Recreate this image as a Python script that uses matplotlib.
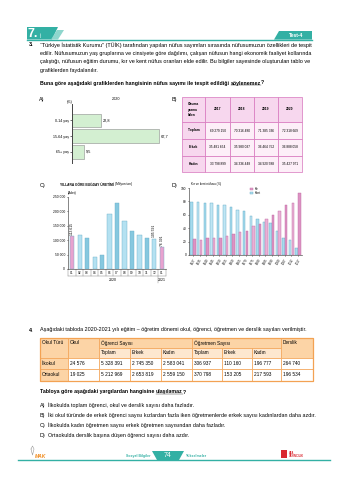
import numpy as np
import matplotlib
matplotlib.use("Agg")
import matplotlib.pyplot as plt
from matplotlib.patches import Rectangle, Polygon

W, H = 342, 480
plt.rcParams['font.family'] = ['Liberation Sans', 'DejaVu Sans']

TEAL = '#33b0a4'
BODY = 3.9

# --- veriler ---
age_groups = ["0-14 yaş", "15-64 yaş", "65+ yaş"]
age_share = [22.8, 67.7, 9.5]

lit_years = ["2017", "2018", "2019", "2020"]
lit_rows = ["Toplam", "Erkek", "Kadın"]
lit_total = ["69 279 150", "70 316 480", "71 385 336", "72 318 669"]
lit_male = ["35 481 654", "35 980 037", "36 464 752", "36 888 058"]
lit_female = ["33 798 899", "34 336 448", "34 920 588", "35 427 971"]

months = ["01", "02", "03", "04", "05", "06", "07", "08", "09", "10", "11", "12", "01"]
house_sales = [113615, 118753, 108670, 41630, 47518, 190012, 229357,
               167754, 131018, 119343, 108691, 105591, 76391]
labelled_months = [0, 11, 12]

census_years = ["1927", "1935", "1940", "1945", "1950", "1955", "1960", "1965", "1970",
                "1975", "1980", "1985", "1990", "2000", "2007", "2012", "2017"]
kent_share = [79, 79, 78, 77, 75, 75, 72, 67, 65, 58, 54, 50, 48, 36, 25, 23, 10]
kir_share = [24, 23, 25, 25, 25, 28, 32, 34, 36, 43, 47, 53, 59, 65, 74, 78, 93]

school_types = ["İlkokul", "Ortaokul"]
school_count = ["24 576", "19 025"]
student_total = ["5 328 391", "5 212 969"]
student_male = ["2 745 350", "2 653 819"]
student_female = ["2 583 041", "2 559 150"]
teacher_total = ["306 937", "370 798"]
teacher_male = ["110 160", "153 205"]
teacher_female = ["196 777", "217 593"]
classrooms = ["264 740", "196 534"]

q3_lines = [
    "“Türkiye İstatistik Kurumu” (TÜİK) tarafından yapılan nüfus sayımları sırasında nüfusumuzun özellikleri de tespit",
    "edilir. Nüfusumuzun yaş gruplarına ve cinsiyete göre dağılımı, çalışan nüfusun hangi ekonomik faaliyet kollarında",
    "çalıştığı, nüfusun eğitim durumu, kır ve kent nüfus oranları elde edilir. Bu bilgiler sayesinde oluşturulan tablo ve",
    "grafiklerden faydalanılır.",
]
q4_options = [
    ("A)", "İlkokulda toplam öğrenci, okul ve derslik sayısı daha fazladır."),
    ("B)", "İki okul türünde de erkek öğrenci sayısı kızlardan fazla iken öğretmenlerde erkek sayısı kadınlardan daha azdır."),
    ("C)", "İlkokulda kadın öğretmen sayısı erkek öğretmen sayısından daha fazladır."),
    ("D)", "Ortaokulda derslik başına düşen öğrenci sayısı daha azdır."),
]


def px_rect(x0, y0, x1, y1):
    return [x0 / W, 1 - y1 / H, (x1 - x0) / W, (y1 - y0) / H]


fig = plt.figure(figsize=(W / 100, H / 100), dpi=100)
page = fig.add_axes([0, 0, 1, 1])
page.set_xlim(0, W)
page.set_ylim(H, 0)
page.axis('off')
rend = fig.canvas.get_renderer()


def txt(x, y, s, size=BODY, **kw):
    kw.setdefault('va', 'center')
    return page.text(x, y, s, fontsize=size, **kw)


def width_of(t):
    return t.get_window_extent(rend).width


def fit_line(x0, x1, y, line, size=BODY):
    # satırı sağ kenara kadar uzatmak için yazı boyunu biraz ayarlar
    t = txt(x0, y, line, size)
    scale = (x1 - x0) / width_of(t)
    t.set_fontsize(size * min(max(scale, 0.95), 1.06))


def runs(x, y, parts, size=BODY, weight='normal'):
    # parçaları yan yana yazar, işaretli olanların altını çizer
    for s, under in parts:
        t = txt(x, y, s, size, weight=weight)
        w = width_of(t)
        if under:
            page.plot([x, x + w], [y + 2.4, y + 2.4], color='#222', lw=0.3)
        x += w


# --- üst başlık ---
page.add_patch(Polygon([(27, 27), (58, 27), (52, 39.5), (27, 39.5)], closed=True, color=TEAL, lw=0))
page.add_patch(Polygon([(57, 30), (64, 30), (58, 39.5), (51, 39.5)], closed=True, color='#8fd6cd', lw=0))
txt(28, 34, "7.", 9, weight='bold', color='white')
txt(41.5, 34, "SINIF", 1.6, weight='bold', color='white', rotation=90, ha='center')
page.plot([27, 312], [39.6, 39.6], color=TEAL, lw=1.0)
page.add_patch(Polygon([(274, 39.6), (279, 31), (312, 31), (312, 39.6)], closed=True, color=TEAL, lw=0))
txt(296, 35.5, "Test-4", 3.6, weight='bold', color='white', ha='center')

# --- soru 3 ---
txt(29, 45, "3.", BODY, weight='bold')
for i, line in enumerate(q3_lines):
    y = 45 + i * 8.4
    if i < len(q3_lines) - 1:
        fit_line(40, 312, y, line)
    else:
        txt(40, y, line)
runs(40, 83, [("Buna göre aşağıdaki grafiklerden hangisinin nüfus sayımı ile tespit edildiği ", False),
              ("söylenemez", True), ("?", False)], size=3.8, weight='bold')

# --- A) yaş grupları ---
txt(39, 99, "A)", BODY)
txt(116, 99, "2020", 2.7, ha='center')
txt(70, 102, "(%)", 2.7, ha='center')
axA = fig.add_axes(px_rect(72, 104, 172, 163))
axA.barh(range(len(age_share)), age_share, height=0.87, color='#d3efd1',
         edgecolor='#8c8c8c', lw=0.4)
for i, v in enumerate(age_share):
    axA.text(v + 1.5, i, f"{v:.1f}".replace('.', ','), fontsize=2.8, va='center')
axA.set_ylim(2.72, -1.05)
axA.set_xlim(0, 77.8)
axA.set_yticks(range(len(age_groups)), age_groups, fontsize=2.6)
axA.set_xticks([])
for s in ['top', 'right', 'bottom']:
    axA.spines[s].set_visible(False)
axA.spines['left'].set_linewidth(0.7)
axA.spines['left'].set_color('#444')
axA.tick_params(axis='y', length=1.2, width=0.4, pad=1)
axA.patch.set_alpha(0)

# --- B) okuma yazma bilen tablosu ---
txt(172, 99, "B)", BODY)
bx = [182, 205, 230, 254, 278, 302]
by = [97, 122, 139, 156, 172]
pink_edge = '#d775bd'
for r in range(4):
    for c in range(5):
        head = r == 0 or c == 0
        page.add_patch(Rectangle((bx[c], by[r]), bx[c + 1] - bx[c], by[r + 1] - by[r],
                                 facecolor='#f7d7ee' if head else '#fdeff8',
                                 edgecolor=pink_edge, lw=0.5))
txt(188, 109.5, "Okuma\nyazma\nbilen", 2.3, weight='bold', ha='left', linespacing=1.6)
for c, yr in enumerate(lit_years):
    txt((bx[c + 1] + bx[c + 2]) / 2, 109.5, yr, 2.4, ha='center', weight='bold')
for r, (name, vals) in enumerate(zip(lit_rows, [lit_total, lit_male, lit_female])):
    yc = (by[r + 1] + by[r + 2]) / 2
    txt((bx[0] + bx[1]) / 2, yc, name, 2.4, ha='center', weight='bold')
    for c, v in enumerate(vals):
        txt((bx[c + 1] + bx[c + 2]) / 2, yc, v, 2.3, ha='center')

# --- C) aylık satışlar ---
txt(40, 186, "C)", BODY)
txt(114, 184.5, "YILLARA GÖRE BUĞDAY ÜRETİMİ", 2.3, ha='right', weight='bold')
txt(115, 184.5, "(Milyon ton)", 2.3, ha='left')
txt(68, 193, "(Adet)", 2.3)
cx0, cx1 = 68, 166
axC = fig.add_axes(px_rect(cx0, 197, cx1, 269))
xc = np.arange(len(house_sales))
c_cols = []
for i in xc:
    if months[i] == "01":
        c_cols.append('#e8a2cf')
    else:
        c_cols.append('#b4e1f1' if i % 2 == 1 else '#86c8df')
axC.bar(xc, house_sales, width=0.55, color=c_cols, edgecolor='#6aaec8', lw=0.3)
for i in labelled_months:
    v = house_sales[i]
    axC.text(i, v + 4000, f"{v:,}".replace(',', ' '), rotation=90, ha='center',
             va='bottom', fontsize=2.4)
axC.set_xlim(-0.55, len(xc) - 0.45)
axC.set_ylim(0, 250000)
yt = np.arange(0, 250001, 50000)
axC.set_yticks(yt, [f"{v:,}".replace(',', ' ') for v in yt], fontsize=2.4)
axC.set_xticks([])
for s in ['top', 'right']:
    axC.spines[s].set_visible(False)
for s in ['left', 'bottom']:
    axC.spines[s].set_linewidth(0.5)
    axC.spines[s].set_color('#555')
axC.tick_params(axis='y', length=1, width=0.4, pad=1)
axC.patch.set_alpha(0)


def c_px(v):
    return cx0 + (v + 0.55) / (len(xc) - 0.45 + 0.55) * (cx1 - cx0)


for i, m in enumerate(months):
    txt(c_px(i), 272.5, m, 2.3, ha='center')
    page.plot([c_px(i + 0.5)] * 2, [269, 283 if i == 11 else 276], color='#777', lw=0.3)
page.plot([c_px(-0.5)] * 2, [269, 276], color='#777', lw=0.3)
page.plot([c_px(-0.5), c_px(len(xc) - 0.5)], [276, 276], color='#777', lw=0.3)
txt(c_px(5.5), 280, "2020", 2.5, ha='center')
txt(c_px(12), 280, "2021", 2.5, ha='center')

# --- D) kır ve kent nüfusu ---
txt(172, 185, "D)", BODY)
txt(191, 183.5, "Kır ve kent nüfusu (%)", 2.2)
axD = fig.add_axes(px_rect(189, 188, 302, 255))
xd = np.arange(len(census_years))
blue_cols = ['#a6dbee' if i % 2 == 0 else '#bfe6f4' for i in xd]
pink_cols = ['#dc93c4' if i % 2 == 0 else '#e9b0d6' for i in xd]
axD.bar(xd - 0.2, kent_share, width=0.38, color=blue_cols, edgecolor='#5fa7c2', lw=0.3)
axD.bar(xd + 0.2, kir_share, width=0.38, color=pink_cols, edgecolor='#c0689f', lw=0.3)
axD.set_xlim(-0.6, len(xd) - 0.4)
axD.set_ylim(0, 100)
axD.set_yticks(range(0, 101, 20), [str(v) for v in range(0, 101, 20)], fontsize=2.3)
axD.set_xticks(xd, census_years, fontsize=2.1, rotation=60, ha='right', rotation_mode='anchor')
for s in ['top', 'right']:
    axD.spines[s].set_visible(False)
for s in ['left', 'bottom']:
    axD.spines[s].set_linewidth(0.5)
    axD.spines[s].set_color('#555')
axD.tick_params(length=1, width=0.4, pad=1)
axD.patch.set_alpha(0)
page.add_patch(Rectangle((250, 187.5), 3, 2.6, facecolor='#e2a0cc', edgecolor='#c0689f', lw=0.3))
page.add_patch(Rectangle((250, 191.5), 3, 2.6, facecolor='#b4e1f1', edgecolor='#5fa7c2', lw=0.3))
txt(254.5, 188.8, "Kır", 2.1)
txt(254.5, 192.8, "Kent", 2.1)

# --- soru 4 ---
txt(29, 330, "4.", BODY, weight='bold')
txt(40, 330, "Aşağıdaki tabloda 2020-2021 yılı eğitim – öğretim dönemi okul, öğrenci, öğretmen ve derslik sayıları verilmiştir.", BODY)

tx = [40, 68, 99, 130, 161, 192, 222, 252, 281, 313]
ty = [338, 348, 357.5, 369, 380.5]
orange = '#f3a253'
head1 = '#fcd4a6'
head2 = '#fde7cf'
# başlık hücreleri
for c0, c1 in [(0, 1), (1, 2), (8, 9)]:
    page.add_patch(Rectangle((tx[c0], ty[0]), tx[c1] - tx[c0], ty[2] - ty[0],
                             facecolor=head1, edgecolor=orange, lw=0.5))
for c0, c1 in [(2, 5), (5, 8)]:
    page.add_patch(Rectangle((tx[c0], ty[0]), tx[c1] - tx[c0], ty[1] - ty[0],
                             facecolor=head1, edgecolor=orange, lw=0.5))
for c in range(2, 8):
    page.add_patch(Rectangle((tx[c], ty[1]), tx[c + 1] - tx[c], ty[2] - ty[1],
                             facecolor=head2, edgecolor=orange, lw=0.5))
for r in range(2):
    for c in range(9):
        page.add_patch(Rectangle((tx[c], ty[r + 2]), tx[c + 1] - tx[c], ty[r + 3] - ty[r + 2],
                                 facecolor=head1 if c == 0 else 'white', edgecolor=orange, lw=0.5))
page.add_patch(Rectangle((tx[0], ty[0]), tx[-1] - tx[0], ty[-1] - ty[0],
                         facecolor='none', edgecolor=orange, lw=0.9))
for c, s in [(0, "Okul Türü"), (1, "Okul"), (2, "Öğrenci Sayısı"), (5, "Öğretmen Sayısı"), (8, "Derslik")]:
    txt(tx[c] + 1.8, 343, s, 3.4)
for c, s in zip(range(2, 8), ["Toplam", "Erkek", "Kadın"] * 2):
    txt(tx[c] + 1.8, 352.8, s, 3.4)
cols4 = [school_types, school_count, student_total, student_male, student_female,
         teacher_total, teacher_male, teacher_female, classrooms]
for r in range(2):
    yc = (ty[r + 2] + ty[r + 3]) / 2
    for c, col in enumerate(cols4):
        txt(tx[c] + 1.8, yc, col[r], 3.4)

runs(40, 392, [("Tabloya göre aşağıdaki yargılardan hangisine ", False), ("ulaşılamaz", True),
               ("?", False)], size=3.8, weight='bold')
for i, (k, s) in enumerate(q4_options):
    y = 405 + i * 10
    txt(40, y, k, BODY)
    txt(48, y, s, BODY)

# --- alt bilgi ---
page.plot([18, 330], [460, 460], color=TEAL, lw=1.0)
page.add_patch(Polygon([(152, 451), (184, 451), (179, 460), (157, 460)], closed=True, color=TEAL, lw=0))
txt(168, 455.5, "74", 5, color='white', ha='center')
txt(150, 456, "Sosyal Bilgiler", 2.5, color=TEAL, ha='right', weight='bold')
txt(186, 456, "Yükselmeler", 2.5, color=TEAL, weight='bold')
txt(35, 456, "MAK", 3.6, color='#f08a1c', weight='bold', style='italic')
page.plot([31, 32.5, 34, 32.5, 31], [449, 446, 449, 455, 449], color='#999', lw=0.4)
page.add_patch(Rectangle((281, 450), 6, 8, facecolor='#d9262e', lw=0))
txt(289, 452.5, "ATA", 2.0, color='#d9262e', weight='bold')
txt(289, 456, "YAYINCILIK", 2.0, color='#d9262e', weight='bold')

fig.savefig("out.png", dpi=100)
